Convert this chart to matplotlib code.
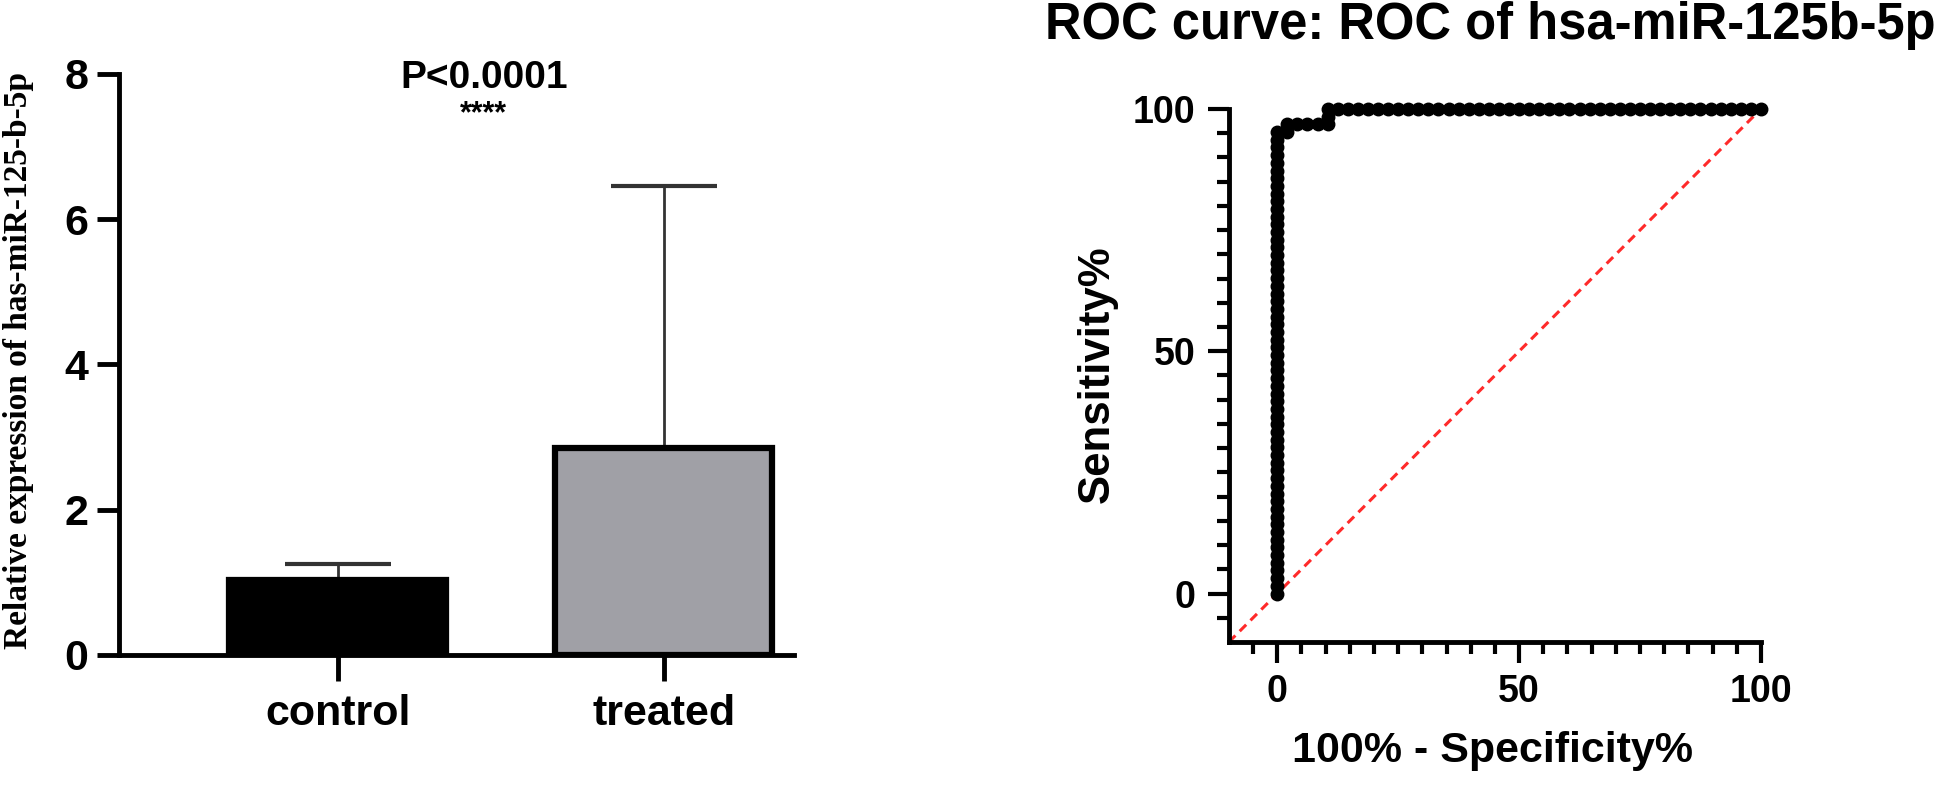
import numpy as np
import matplotlib.pyplot as plt
from matplotlib.ticker import FixedLocator

plt.rcParams['font.family'] = ['Liberation Sans', 'DejaVu Sans']
plt.rcParams['font.weight'] = 'bold'

# bar chart data
groups = ['control', 'treated']
means = [1.03, 2.85]
err_up = [0.22, 3.61]
bar_colors = ['black', '#a0a0a6']

# ROC data: counts of false / true positives at each threshold
n_neg = 48
n_pos = 63
fp_counts = [0, 0, 0, 0, 0, 0, 0, 0, 0, 0, 0, 0, 0, 0, 0, 0, 0, 0, 0, 0,
             0, 0, 0, 0, 0, 0, 0, 0, 0, 0, 0, 0, 0, 0, 0, 0, 0, 0, 0, 0,
             0, 0, 0, 0, 0, 0, 0, 0, 0, 0, 0, 0, 0, 0, 0, 0, 0, 0, 0, 0,
             0, 1, 1, 2, 3, 4, 5, 5,
             5, 6, 7, 8, 9, 10, 11, 12, 13, 14, 15, 16, 17, 18, 19, 20,
             21, 22, 23, 24, 25, 26, 27, 28, 29, 30, 31, 32, 33, 34, 35, 36,
             37, 38, 39, 40, 41, 42, 43, 44, 45, 46, 47, 48]
tp_counts = [0, 1, 2, 3, 4, 5, 6, 7, 8, 9, 10, 11, 12, 13, 14, 15, 16, 17, 18, 19,
             20, 21, 22, 23, 24, 25, 26, 27, 28, 29, 30, 31, 32, 33, 34, 35, 36, 37, 38, 39,
             40, 41, 42, 43, 44, 45, 46, 47, 48, 49, 50, 51, 52, 53, 54, 55, 56, 57, 58, 59,
             60, 60, 61, 61, 61, 61, 61, 62,
             63, 63, 63, 63, 63, 63, 63, 63, 63, 63, 63, 63, 63, 63, 63, 63,
             63, 63, 63, 63, 63, 63, 63, 63, 63, 63, 63, 63, 63, 63, 63, 63,
             63, 63, 63, 63, 63, 63, 63, 63, 63, 63, 63, 63]

fpr = np.array(fp_counts) / n_neg * 100
tpr = np.array(tp_counts) / n_pos * 100

fig = plt.figure(figsize=(19.46, 7.92), dpi=100)

# ---- bar chart ----
ax1 = fig.add_axes([0.0612, 0.173, 0.3469, 0.7336])
x = np.arange(len(groups))
ax1.errorbar(x, means, yerr=[[0, 0], err_up], fmt='none', ecolor='#333333',
             elinewidth=2, capsize=38, capthick=3, zorder=1)
ax1.bar(x, means, width=0.665, color=bar_colors, edgecolor='black',
        linewidth=4.5, zorder=2)
ax1.set_xlim(-0.67, 1.4)
ax1.set_ylim(0, 8)
for s in ['top', 'right']:
    ax1.spines[s].set_visible(False)
for s in ['left', 'bottom']:
    ax1.spines[s].set_linewidth(3.5)
ax1.set_yticks([0, 2, 4, 6, 8])
ax1.set_xticks(x)
ax1.set_xticklabels(groups)
ax1.tick_params(axis='y', length=16, width=3.5, labelsize=31, pad=6)
ax1.tick_params(axis='x', length=19, width=3.5, labelsize=31, pad=9)
ax1.text(0.448, 7.8, 'P<0.0001', ha='center', va='baseline', fontsize=28,
         clip_on=False)
ax1.text(0.448, 7.45, '****', ha='center', va='center', fontsize=22,
         clip_on=False)
fig.text(0.0095, 0.545, 'Relative expression of has-miR-125-b-5p', rotation=90,
         family=['Liberation Serif', 'DejaVu Serif'], weight='bold', fontsize=24,
         ha='center', va='center')

# ---- ROC curve ----
ax2 = fig.add_axes([0.6315, 0.1894, 0.2734, 0.673])
ax2.plot([-10, 100], [-10, 100], color='#ff2a2a', lw=2.2, ls=(0, (3, 2)),
         zorder=1)
ax2.plot(fpr, tpr, color='black', lw=2, marker='o', ms=9, zorder=3,
         clip_on=False)
ax2.set_xlim(-10, 100)
ax2.set_ylim(-10, 100)
for s in ['top', 'right']:
    ax2.spines[s].set_visible(False)
for s in ['left', 'bottom']:
    ax2.spines[s].set_linewidth(3.5)
ax2.set_xticks([0, 50, 100])
ax2.set_yticks([0, 50, 100])
minor = np.arange(-5, 100, 5)
ax2.xaxis.set_minor_locator(FixedLocator(minor))
ax2.yaxis.set_minor_locator(FixedLocator(minor))
ax2.tick_params(which='major', length=15, width=3, labelsize=27)
ax2.tick_params(which='minor', length=8.5, width=3)
ax2.tick_params(axis='y', which='major', pad=9)
ax2.tick_params(axis='x', which='major', pad=8)

fig.text(1097 / 1946, 0.528, 'Sensitivity%', rotation=90, fontsize=31.5,
         ha='center', va='center')
fig.text(1493 / 1946, 0.052, '100% - Specificity%', fontsize=31,
         ha='center', va='center')
fig.text(0.766, 0.968, 'ROC curve: ROC of hsa-miR-125b-5p', fontsize=36.5,
         ha='center', va='center')

fig.savefig('out.png', dpi=100)
